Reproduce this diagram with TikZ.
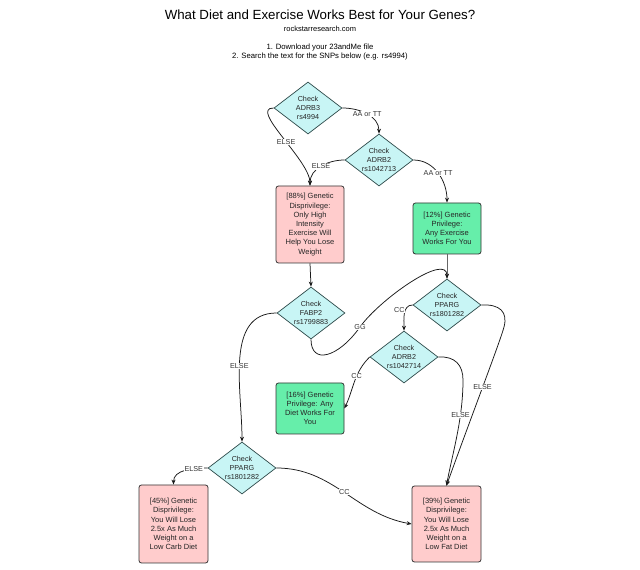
\documentclass[tikz,border=0pt]{standalone}
\usepackage{fontspec}
\setmainfont{Liberation Sans}
\usetikzlibrary{shapes.geometric,arrows.meta}
\definecolor{dfill}{HTML}{C8F5F5}
\definecolor{dline}{HTML}{2E4A4A}
\definecolor{pinkf}{HTML}{FFCCCC}
\definecolor{greenf}{HTML}{66EEAA}
\definecolor{bline}{HTML}{333333}
\begin{document}
\begin{tikzpicture}[x=1pt,y=1pt,
  dia/.style={diamond, draw=dline, fill=dfill, line width=0.7pt, minimum width=68pt, minimum height=52pt, aspect=1.3, inner sep=0pt, align=center, font=\fontsize{7.2}{8.8}\selectfont, text=black!85},
  pbox/.style={rectangle, rounded corners=2.5pt, draw=bline, line width=0.8pt, fill=pinkf, minimum width=68pt, align=center, font=\fontsize{7.5}{9.2}\selectfont, text=black!85},
  gbox/.style={pbox, fill=greenf},
  conn/.style={draw=black!90, line width=0.75pt, -{Stealth[length=5pt,width=4pt]}},
  lbl/.style={fill=white, inner sep=0.6pt, font=\fontsize{7.2}{8}\selectfont, text=black!80},
  ttl/.style={inner sep=0pt, align=center}
]
\useasboundingbox (0,0) rectangle (640,570);
\fill[white] (0,0) rectangle (640,570);

\node[ttl, font=\fontsize{13.3}{15}\selectfont] (title) at (320,555) {What Diet and Exercise Works Best for Your Genes?};
\node[ttl, font=\fontsize{7.5}{9}\selectfont] (url) at (320,541) {rockstarresearch.com};
\node[ttl, font=\fontsize{7.7}{9.5}\selectfont] (instr) at (320,518) {1. Download your 23andMe file\\2. Search the text for the SNPs below (e.g. rs4994)};

\node[dia] (d1) at (308,462) {Check\\ADRB3\\rs4994};
\node[dia] (d2) at (379,410) {Check\\ADRB2\\rs1042713};
\node[pbox, minimum height=77pt] (b88) at (310,345.5) {[88\%] Genetic\\Disprivilege:\\Only High\\Intensity\\Exercise Will\\Help You Lose\\Weight};
\node[gbox, minimum height=51pt] (b12) at (447,341.5) {[12\%] Genetic\\Privilege:\\Any Exercise\\Works For You};
\node[dia] (d3) at (311,257) {Check\\FABP2\\rs1799883};
\node[dia] (d4) at (447,265) {Check\\PPARG\\rs1801282};
\node[dia] (d5) at (404,213) {Check\\ADRB2\\rs1042714};
\node[gbox, minimum height=51pt] (b16) at (310,161.5) {[16\%] Genetic\\Privilege: Any\\Diet Works For\\You};
\node[dia] (d6) at (242,102) {Check\\PPARG\\rs1801282};
\node[pbox, minimum height=78pt, minimum width=69pt] (b45) at (173.5,46) {[45\%] Genetic\\Disprivilege:\\You Will Lose\\2.5x As Much\\Weight on a\\Low Carb Diet};
\node[pbox, minimum height=76pt, minimum width=69pt] (b39) at (446.5,46) {[39\%] Genetic\\Disprivilege:\\You Will Lose\\2.5x As Much\\Weight on a\\Low Fat Diet};

\draw[conn] (d1.east) to[out=0,in=90] node[lbl,pos=0.5]{AA or TT} (d2.north);
\draw[conn] (d1.west) to[out=180,in=90,looseness=0.75] node[lbl,pos=0.55]{ELSE} (b88.north);
\draw[conn] (d2.west) to[out=180,in=90] node[lbl,pos=0.5]{ELSE} (b88.north);
\draw[conn] (d2.east) to[out=0,in=90] node[lbl,pos=0.5]{AA or TT} (b12.north);
\draw[conn] (b88.south) -- (d3.north);
\draw[conn, draw=black!60] (b12.south) -- (d4.north);
\draw[conn] (d3.south) .. controls (311,205) and (338,212) .. (360,243) node[lbl]{GG} .. controls (380,271) and (447,318) .. (d4.north);
\draw[conn] (d3.west) to[out=180,in=90] node[lbl,pos=0.55]{ELSE} (d6.north);
\draw[conn] (d4.west) to[out=180,in=90] node[lbl,pos=0.35,anchor=east]{CC} (d5.north);
\draw[conn] (d4.east) .. controls (500,266) and (508,258) .. (504,243) .. controls (500,228) and (470,150) .. (b39.north) node[lbl,pos=0.5]{ELSE};
\draw[conn] (d5.east) .. controls (455,214) and (463,205) .. (463,190) .. controls (463,150) and (452,115) .. (b39.north) node[lbl,pos=0.3]{ELSE};
\draw[conn] (d5.west) to[out=225,in=65] node[lbl,pos=0.4]{CC} (b16.east);
\draw[conn] (d6.west) to[out=180,in=90] node[lbl,pos=0.3]{ELSE} (b45.north);
\draw[conn] (d6.east) to[out=0,in=170] node[lbl,pos=0.5]{CC} (b39.west);
\end{tikzpicture}
\end{document}
